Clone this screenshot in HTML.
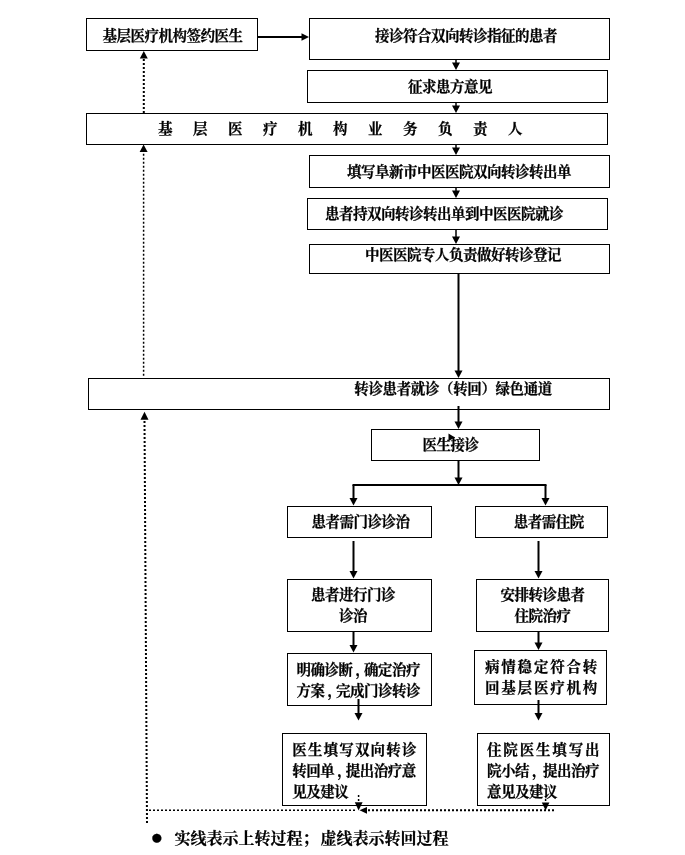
<!DOCTYPE html>
<html lang="zh-CN">
<head>
<meta charset="utf-8">
<title>双向转诊流程图</title>
<style>
html,body{margin:0;padding:0;background:#fff;}
body{width:685px;height:855px;position:relative;overflow:hidden;
  font-family:"Liberation Sans","Noto Serif CJK SC",serif;font-weight:700;font-size:14.5px;color:#000;}
#chart{position:absolute;left:0;top:0;width:685px;height:855px;will-change:transform;}
.b{position:absolute;box-sizing:border-box;border:1px solid #000;}
.t{position:absolute;white-space:nowrap;line-height:1;letter-spacing:-0.5px;-webkit-text-stroke:0.25px #000;}
svg{position:absolute;left:0;top:0;}
svg .s{stroke:#000;fill:#000;}
svg .d{stroke:#000;fill:#000;}
svg .d line{stroke-dasharray:2 2;}
svg polygon{stroke:none;}
.c1{position:relative;left:3px;margin-right:-2.5px;}
.c2{position:relative;left:3px;}
.legend{position:absolute;left:0;top:0;white-space:nowrap;line-height:1;-webkit-text-stroke:0.22px #000;}
.legend .bullet{position:absolute;left:150.5px;top:825.5px;font-size:21px;font-weight:400;}
.legend .txt{position:absolute;left:174.5px;top:831px;font-size:16px;}
.legend .sc{margin-right:2px;}
</style>
</head>
<body>
<div id="chart">
<div class="b" style="left:86px;top:18px;width:172px;height:33px">
  <span class="t" style="left:15.5px;top:9.5px;">基层医疗机构签约医生</span>
</div>
<div class="b" style="left:309px;top:18px;width:301px;height:42px">
  <span class="t" style="left:65px;top:9.5px;">接诊符合双向转诊指征的患者</span>
</div>
<div class="b" style="left:307px;top:70px;width:301px;height:33px">
  <span class="t" style="left:100px;top:8.5px;">征求患方意见</span>
</div>
<div class="b" style="left:86px;top:113px;width:522px;height:32px">
  <span class="t" style="left:71px;top:7.8px;letter-spacing:20.5px;">基层医疗机构业务负责人</span>
</div>
<div class="b" style="left:309px;top:155px;width:301px;height:33px">
  <span class="t" style="left:37px;top:8.5px;">填写阜新市中医医院双向转诊转出单</span>
</div>
<div class="b" style="left:307px;top:198px;width:301px;height:32px">
  <span class="t" style="left:17px;top:7.5px;">患者持双向转诊转出单到中医医院就诊</span>
</div>
<div class="b" style="left:309px;top:244px;width:301px;height:30px">
  <span class="t" style="left:55px;top:2.5px;">中医医院专人负责做好转诊登记</span>
</div>
<div class="b" style="left:88px;top:378px;width:522px;height:32px">
  <span class="t" style="left:265.3px;top:2.5px;letter-spacing:-0.38px;">转诊患者就诊（转回）绿色通道</span>
</div>
<div class="b" style="left:371px;top:429px;width:169px;height:32px">
  <span class="t" style="left:50.4px;top:8px;">医生接诊</span>
</div>
<div class="b" style="left:287px;top:506px;width:145px;height:32px">
  <span class="t" style="left:23.5px;top:7.5px;">患者需门诊诊治</span>
</div>
<div class="b" style="left:475px;top:506px;width:133px;height:32px">
  <span class="t" style="left:37.7px;top:7.5px;">患者需住院</span>
</div>
<div class="b" style="left:287px;top:579px;width:145px;height:53px">
  <span class="t" style="left:23px;top:7.5px;">患者进行门诊</span>
  <span class="t" style="left:51px;top:28.5px;">诊治</span>
</div>
<div class="b" style="left:476px;top:579px;width:133px;height:53px">
  <span class="t" style="left:23.5px;top:7.5px;">安排转诊患者</span>
  <span class="t" style="left:37.5px;top:28.5px;">住院治疗</span>
</div>
<div class="b" style="left:287px;top:653px;width:145px;height:53px">
  <span class="t" style="left:8.5px;top:8.5px;">明确诊断<span class="c1">，</span>确定治疗</span>
  <span class="t" style="left:8.5px;top:29.5px;">方案<span class="c1">，</span>完成门诊转诊</span>
</div>
<div class="b" style="left:474px;top:650px;width:133px;height:55px">
  <span class="t" style="left:10px;top:8.5px;letter-spacing:1.8px;">病情稳定符合转</span>
  <span class="t" style="left:10px;top:29.5px;letter-spacing:1.8px;">回基层医疗机构</span>
</div>
<div class="b" style="left:282px;top:733px;width:145px;height:73px">
  <span class="t" style="left:9.3px;top:8.5px;letter-spacing:1.16px;">医生填写双向转诊</span>
  <span class="t" style="left:9.3px;top:29.5px;">转回单<span class="c1">，</span>提出治疗意</span>
  <span class="t" style="left:9.3px;top:50.5px;">见及建议</span>
</div>
<div class="b" style="left:477px;top:733px;width:133px;height:73px">
  <span class="t" style="left:9px;top:8.5px;letter-spacing:1.83px;">住院医生填写出</span>
  <span class="t" style="left:9px;top:29.5px;">院小结<span class="c2">，</span>提出治疗</span>
  <span class="t" style="left:9px;top:50.5px;">意见及建议</span>
</div>
<svg width="685" height="855" viewBox="0 0 685 855">
<g class="s">
<line x1="258" y1="37" x2="302" y2="37" stroke-width="1.8"/><polygon points="301.5,33.3 301.5,40.7 309,37"/>
<line x1="456" y1="60" x2="456" y2="63.4" stroke-width="1.5"/><polygon points="452,62.4 460,62.4 456,70"/>
<line x1="456" y1="103" x2="456" y2="106.4" stroke-width="1.5"/><polygon points="452,105.4 460,105.4 456,113"/>
<line x1="456" y1="145" x2="456" y2="148.4" stroke-width="1.5"/><polygon points="452,147.4 460,147.4 456,155"/>
<line x1="456" y1="188" x2="456" y2="191.4" stroke-width="1.5"/><polygon points="452,190.4 460,190.4 456,198"/>
<line x1="456" y1="230" x2="456" y2="237.4" stroke-width="1.5"/><polygon points="452,236.4 460,236.4 456,244"/>
<line x1="458.5" y1="273" x2="458.5" y2="371.4" stroke-width="2"/><polygon points="454.5,370.4 462.5,370.4 458.5,378"/>
<line x1="458.5" y1="406" x2="458.5" y2="422.4" stroke-width="2"/><polygon points="454.5,421.4 462.5,421.4 458.5,429"/>
<line x1="458.5" y1="461" x2="458.5" y2="478.4" stroke-width="2"/><polygon points="454.5,477.4 462.5,477.4 458.5,485"/>
<polyline points="353.5,486 353.5,485 545.5,485 545.5,486" fill="none" stroke-width="2"/>
<line x1="353.5" y1="485" x2="353.5" y2="498.9" stroke-width="2"/><polygon points="349.5,497.9 357.5,497.9 353.5,505.5"/>
<line x1="545.5" y1="485" x2="545.5" y2="498.9" stroke-width="2"/><polygon points="541.5,497.9 549.5,497.9 545.5,505.5"/>
<line x1="353.5" y1="541" x2="353.5" y2="571.9" stroke-width="2"/><polygon points="349.5,570.9 357.5,570.9 353.5,578.5"/>
<line x1="538.5" y1="541" x2="538.5" y2="571.9" stroke-width="2"/><polygon points="534.5,570.9 542.5,570.9 538.5,578.5"/>
<line x1="353.5" y1="632" x2="353.5" y2="645.9" stroke-width="2"/><polygon points="349.5,644.9 357.5,644.9 353.5,652.5"/>
<line x1="538.5" y1="632" x2="538.5" y2="643.4" stroke-width="2"/><polygon points="534.5,642.4 542.5,642.4 538.5,650"/>
<line x1="358.5" y1="699" x2="358.5" y2="713.9" stroke-width="2"/><polygon points="354.5,712.9 362.5,712.9 358.5,720.5"/>
<line x1="538.5" y1="700" x2="538.5" y2="713.9" stroke-width="2"/><polygon points="534.5,712.9 542.5,712.9 538.5,720.5"/>
<polygon points="448.5,433.5 448.5,441 455,437.5"/>
</g>
<g class="d">
<polygon points="139.8,58.5 147.8,58.5 143.8,51"/>
<line x1="143.8" y1="59" x2="143.8" y2="113" stroke-width="2"/>
<polygon points="139.6,152 147.6,152 143.6,144.5"/>
<line x1="143.6" y1="153.7" x2="143.6" y2="376.5" stroke-width="1.5"/>
<polygon points="140.5,419.7 148.5,419.7 144.5,411.7"/>
<line x1="144.5" y1="421" x2="147" y2="823" stroke-width="2"/>
<line x1="149" y1="810.3" x2="356" y2="810.3" stroke-width="1.5"/>
<line x1="368" y1="810.3" x2="555" y2="810.3" stroke-width="2"/>
<polygon points="359.5,810.3 367,807 367,813.7"/>
<line x1="358.6" y1="795" x2="358.6" y2="802" stroke-width="1.5"/>
<polygon points="354.8,802.3 362.6,802.3 358.6,810.5"/>
<line x1="545.6" y1="799" x2="545.6" y2="803" stroke-width="1.5"/>
<polygon points="541.8,802.5 549.4,802.5 545.6,810.5"/>
</g>
</svg>
<div class="legend"><span class="bullet">●</span><span class="txt">实线表示上转过程<span class="sc">；</span>虚线表示转回过程</span></div>
</div>
</body>
</html>
